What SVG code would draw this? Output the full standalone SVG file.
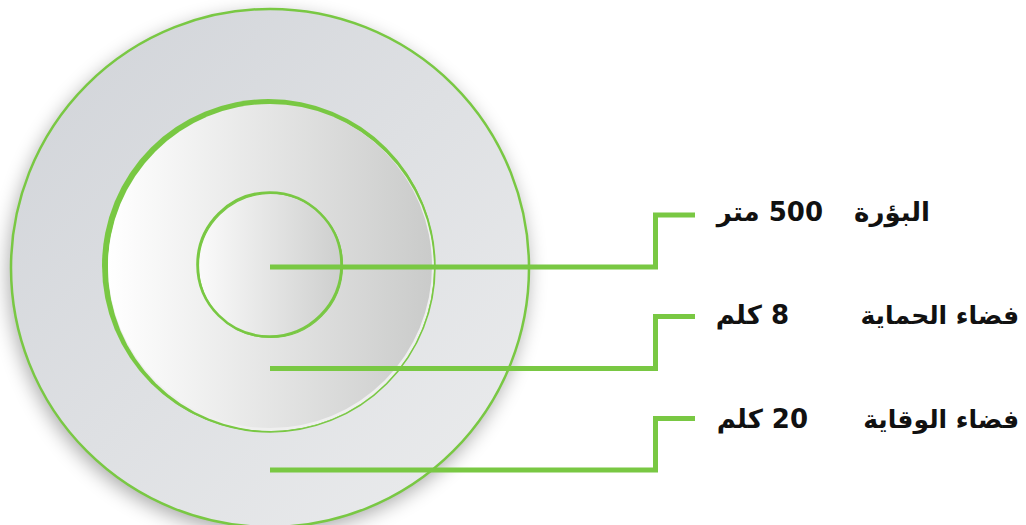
<svg xmlns="http://www.w3.org/2000/svg" width="1026" height="525" viewBox="0 0 1026 525">
  <defs>
    <linearGradient id="gOuter" x1="0" y1="0" x2="1" y2="1">
      <stop offset="0" stop-color="#d0d3d8"/>
      <stop offset="1" stop-color="#ecedee"/>
    </linearGradient>
    <linearGradient id="gMid" x1="0" y1="0" x2="1" y2="0">
      <stop offset="0" stop-color="#ffffff"/>
      <stop offset="1" stop-color="#cacbca"/>
    </linearGradient>
    <linearGradient id="gIn" x1="0" y1="0" x2="1" y2="0">
      <stop offset="0" stop-color="#fbfbfb"/>
      <stop offset="1" stop-color="#cdcecd"/>
    </linearGradient>
    <filter id="shadow" x="-20%" y="-20%" width="140%" height="140%">
      <feGaussianBlur in="SourceAlpha" stdDeviation="10"/>
      <feOffset dx="-2" dy="6" result="b"/>
      <feComponentTransfer><feFuncA type="linear" slope="0.35"/></feComponentTransfer>
      <feMerge><feMergeNode/><feMergeNode in="SourceGraphic"/></feMerge>
    </filter>
    <style>
      .ring { stroke: #79c843; fill: none; }
      .conn { stroke: #79c843; stroke-width: 5; fill: none; }
      .lbl { font-family: "DejaVu Sans", sans-serif; font-weight: bold; font-size: 26px; fill: #111; }
      .name { font-size: 25px; }
    </style>
  </defs>
  <rect width="1026" height="525" fill="#ffffff"/>

  <g id="outer-zone">
    <circle cx="270" cy="268" r="259" fill="url(#gOuter)" filter="url(#shadow)"/>
    <circle class="ring" cx="270" cy="268" r="259" stroke-width="2.5"/>
  </g>

  <g id="middle-zone">
    <circle cx="268.5" cy="265.5" r="166.5" fill="#79c843"/>
    <circle cx="271" cy="268" r="163" fill="#efefef"/>
    <circle cx="270" cy="266" r="162" fill="url(#gMid)"/>
    <circle class="ring" cx="270" cy="267" r="165" stroke-width="1.5"/>
  </g>

  <g id="inner-zone">
    <circle cx="270" cy="265" r="73" fill="url(#gIn)"/>
    <circle class="ring" cx="269.5" cy="264.5" r="72" stroke-width="2.6"/>
    <circle class="ring" cx="270.5" cy="265.5" r="72" stroke-width="1.2"/>
  </g>

  <g id="connectors">
    <polyline class="conn" points="270,267 655.5,267 655.5,215 695,215"/>
    <polyline class="conn" points="270,368.5 655.5,368.5 655.5,316.5 695,316.5"/>
    <polyline class="conn" points="270,470 655.5,470 655.5,418.5 695,418.5"/>
  </g>

  <g id="label-core">
    <text class="lbl" x="930" y="221" direction="rtl" text-anchor="start">البؤرة</text>
    <text class="lbl" x="823" y="221" direction="rtl" text-anchor="start">500 متر</text>
  </g>
  <g id="label-protection">
    <text class="lbl name" x="1019" y="324" direction="rtl" text-anchor="start">فضاء الحماية</text>
    <text class="lbl" x="789" y="324" direction="rtl" text-anchor="start">8 كلم</text>
  </g>
  <g id="label-prevention">
    <text class="lbl name" x="1019" y="428" direction="rtl" text-anchor="start">فضاء الوقاية</text>
    <text class="lbl" x="808" y="428" direction="rtl" text-anchor="start">20 كلم</text>
  </g>
</svg>
